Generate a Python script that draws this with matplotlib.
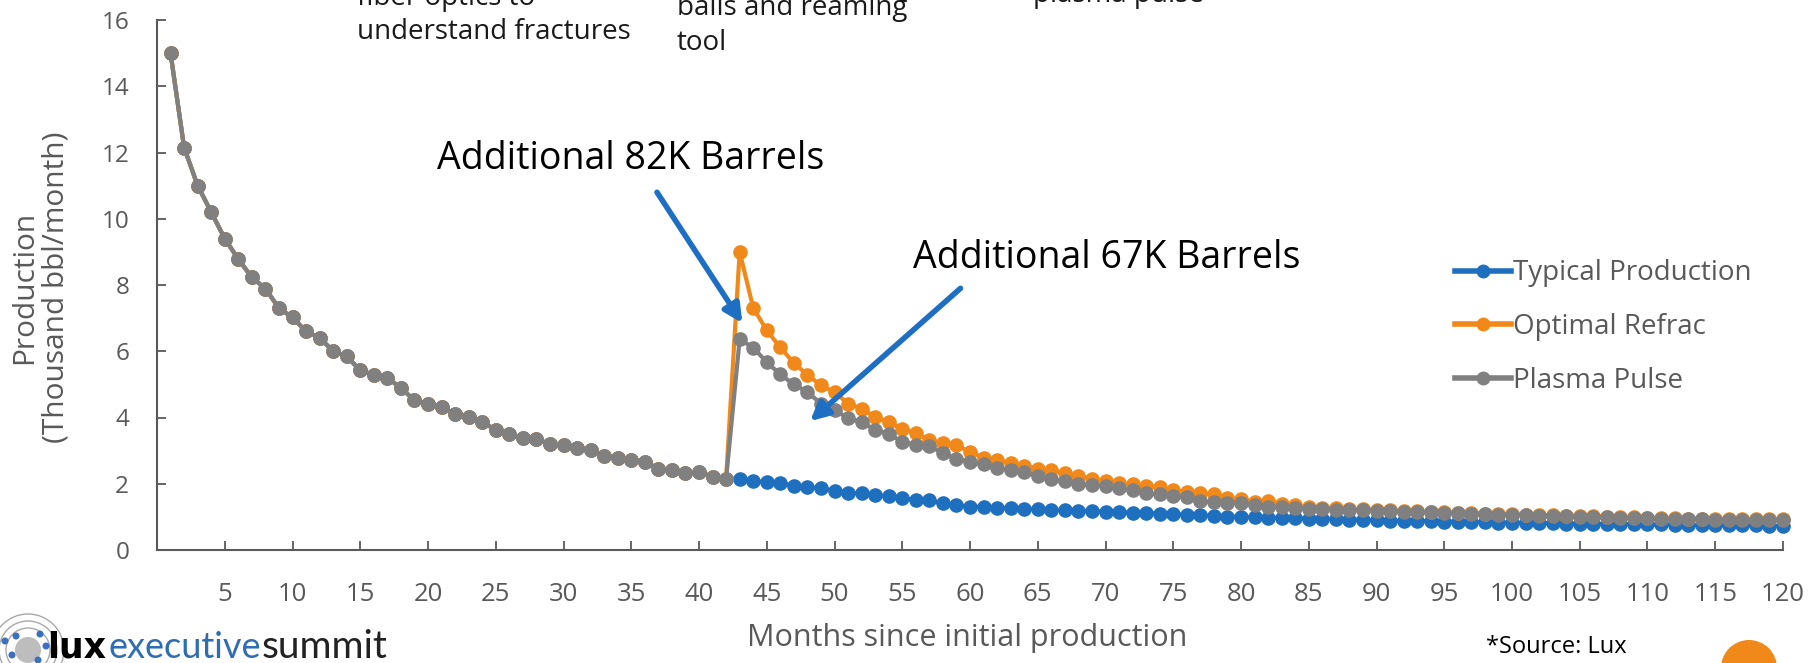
import numpy as np
import matplotlib
matplotlib.use("Agg")
import matplotlib.pyplot as plt
from matplotlib.patches import Circle

plt.rcParams['font.family'] = ['Open Sans', 'DejaVu Sans']

# 数据：前42个月三条曲线相同
months = np.arange(1, 121)
shared_early = [15.0, 12.15, 11.0, 10.2, 9.4, 8.78, 8.23, 7.89, 7.3, 7.02,
                6.6, 6.41, 6.0, 5.85, 5.42, 5.29, 5.2, 4.89, 4.52, 4.41,
                4.31, 4.12, 4.02, 3.86, 3.63, 3.49, 3.39, 3.36, 3.19, 3.16,
                3.09, 3.01, 2.84, 2.79, 2.71, 2.66, 2.46, 2.41, 2.31, 2.36,
                2.21, 2.15]
typical_tail = [2.15, 2.08, 2.05, 2.03, 1.94, 1.91, 1.86, 1.79, 1.73, 1.71,
                1.66, 1.63, 1.56, 1.51, 1.50, 1.41, 1.36, 1.31, 1.30, 1.28,
                1.26, 1.25, 1.23, 1.21, 1.20, 1.19, 1.17, 1.16, 1.15, 1.12,
                1.11, 1.10, 1.08, 1.07, 1.05, 1.03, 1.01, 1.00, 0.99, 0.98,
                0.97, 0.96, 0.95, 0.94, 0.93, 0.92, 0.91, 0.90, 0.89, 0.88,
                0.88, 0.87, 0.86, 0.85, 0.85, 0.84, 0.83, 0.83, 0.82, 0.81,
                0.81, 0.80, 0.80, 0.79, 0.79, 0.78, 0.78, 0.77, 0.77, 0.76,
                0.76, 0.75, 0.75, 0.74, 0.74, 0.74, 0.73, 0.73]
refrac_tail = [9.0, 7.31, 6.63, 6.12, 5.64, 5.29, 4.97, 4.77, 4.42, 4.27,
               4.02, 3.86, 3.66, 3.53, 3.31, 3.23, 3.16, 2.96, 2.79, 2.71,
               2.63, 2.54, 2.46, 2.41, 2.31, 2.24, 2.15, 2.09, 2.01, 1.98,
               1.93, 1.89, 1.81, 1.76, 1.71, 1.69, 1.56, 1.53, 1.46, 1.47,
               1.40, 1.35, 1.30, 1.28, 1.26, 1.24, 1.23, 1.21, 1.20, 1.18,
               1.17, 1.16, 1.14, 1.13, 1.12, 1.10, 1.09, 1.08, 1.07, 1.06,
               1.05, 1.04, 1.03, 1.02, 1.01, 1.00, 0.99, 0.98, 0.97, 0.96,
               0.95, 0.95, 0.94, 0.94, 0.93, 0.93, 0.93, 0.93]
plasma_tail = [6.36, 6.11, 5.67, 5.30, 5.00, 4.77, 4.42, 4.24, 3.97, 3.86,
               3.63, 3.51, 3.26, 3.18, 3.13, 2.93, 2.76, 2.66, 2.59, 2.48,
               2.41, 2.34, 2.24, 2.13, 2.07, 2.00, 1.95, 1.93, 1.87, 1.80,
               1.72, 1.68, 1.63, 1.61, 1.48, 1.44, 1.41, 1.42, 1.35, 1.31,
               1.29, 1.27, 1.24, 1.24, 1.22, 1.20, 1.20, 1.18, 1.18, 1.15,
               1.15, 1.14, 1.12, 1.12, 1.10, 1.09, 1.07, 1.07, 1.05, 1.04,
               1.03, 1.02, 1.01, 1.00, 0.99, 0.98, 0.97, 0.96, 0.95, 0.94,
               0.93, 0.93, 0.92, 0.92, 0.92, 0.92, 0.92, 0.92]

typical = shared_early + typical_tail
refrac = shared_early + refrac_tail
plasma = shared_early + plasma_tail

series_names = ['Typical Production', 'Optimal Refrac', 'Plasma Pulse']
series_colors = ['#1F6FBF', '#F0891A', '#808080']
x_ticks = list(range(5, 121, 5))
y_ticks = list(range(0, 17, 2))

grey_txt = '#595959'

fig = plt.figure(figsize=(18.16, 6.63), dpi=100)
ax = fig.add_axes([157/1816, 1-550/663, (1783-157)/1816, (550-20)/663])

for vals, name, col in zip([typical, refrac, plasma], series_names, series_colors):
    ax.plot(months, vals, color=col, lw=3, marker='o', ms=9.5, label=name,
            solid_joinstyle='round', clip_on=False)

ax.set_xlim(0, 120)
ax.set_ylim(0, 16)
ax.set_xticks(x_ticks)
ax.set_yticks(y_ticks)
for s in ['top', 'right']:
    ax.spines[s].set_visible(False)
for s in ['left', 'bottom']:
    ax.spines[s].set_color(grey_txt)
    ax.spines[s].set_linewidth(1.5)
ax.tick_params(direction='in', length=6.5, width=1.3, color=grey_txt,
               labelcolor=grey_txt)
ax.tick_params(axis='x', pad=23, labelsize=18.5)
ax.tick_params(axis='y', pad=20, labelsize=17.5)

leg = ax.legend(loc='center left', bbox_to_anchor=(1455/1816, 1-327/663),
                bbox_transform=fig.transFigure, frameon=False, fontsize=20,
                handlelength=2.0, handletextpad=0.1, labelspacing=0.92,
                borderpad=0, borderaxespad=0)
for t in leg.get_texts():
    t.set_color(grey_txt)
for h in leg.legend_handles:
    h.set_linewidth(4)
    h.set_markersize(9)

# 坐标轴标题
fig.text(40/1816, 1-287/663, 'Production\n(Thousand bbl/month)', rotation=90,
         ha='center', va='center', multialignment='center', fontsize=21.5,
         color=grey_txt, linespacing=1.1)
fig.text(967/1816, 1-638/663, 'Months since initial production', ha='center',
         va='center', fontsize=22, color=grey_txt)

# 注释和箭头
ax.text(20.7, 11.8, 'Additional 82K Barrels', fontsize=27, color='black',
        ha='left', va='center')
ax.text(55.8, 8.82, 'Additional 67K Barrels', fontsize=27, color='black',
        ha='left', va='center')
arrow_kw = dict(arrowstyle='-|>,head_length=1.1,head_width=0.55',
                color='#1E6FC3', lw=4, shrinkA=0, shrinkB=0)
ax.annotate('', xy=(43.2, 6.85), xytext=(36.9, 10.8), arrowprops=arrow_kw)
ax.annotate('', xy=(48.2, 3.89), xytext=(59.3, 7.9), arrowprops=arrow_kw)

# 顶部被截断的文字（原幻灯片中就被裁掉一半）
top_lines = [('fiber optics to', 357, 5), ('understand fractures', 357, 39),
             ('balls and reaming', 677, 15), ('tool', 677, 50),
             ('plasma pulse', 1033, 2)]
for txt, px, py in top_lines:
    fig.text(px/1816, 1-py/663, txt, fontsize=20, color='#1a1a1a',
             ha='left', va='baseline')

# 左下角标志和右下角
fig.text(1486/1816, 1-653/663, '*Source: Lux', fontsize=17, color='black',
         ha='left', va='baseline')
fig.text(47/1816, 1-658/663, 'lux', fontsize=25, fontweight='bold',
         family='DejaVu Sans', color='black', ha='left', va='baseline')
fig.text(108/1816, 1-658/663, 'executive', fontsize=26, color='#2E6DB4',
         family='Lato', ha='left', va='baseline')
fig.text(262/1816, 1-658/663, 'summit', fontsize=28, color='#222222',
         family='Lato', ha='left', va='baseline')

deco = fig.add_axes([0, 0, 1, 1], zorder=-1)
deco.set_xlim(0, 1816)
deco.set_ylim(663, 0)
deco.axis('off')
for r in [36, 29, 22]:
    deco.add_patch(Circle((28, 650), r, fill=False, ec='#A8A8A8', lw=1))
deco.add_patch(Circle((28, 650), 13, fc='#BDBDBD', ec='none'))
for dx, dy in [(5, 641), (16, 636), (40, 634), (46, 646), (38, 660), (12, 655)]:
    deco.add_patch(Circle((dx, dy), 3.5, fc='#3B6FC2', ec='none'))
deco.add_patch(Circle((1749, 668), 28, fc='#F0891A', ec='none'))

fig.savefig('out.png', dpi=100)
